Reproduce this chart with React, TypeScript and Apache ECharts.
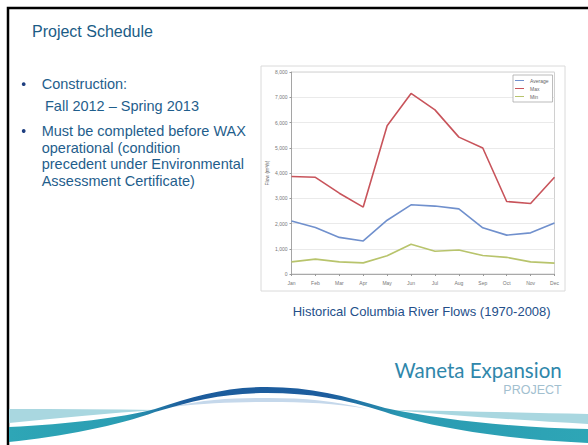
import React, { useEffect, useRef } from "react";
import * as echarts from "echarts";

const months = ["Jan", "Feb", "Mar", "Apr", "May", "Jun", "Jul", "Aug", "Sep", "Oct", "Nov", "Dec"];
const averageFlow = [2100, 1840, 1450, 1310, 2130, 2740, 2690, 2580, 1830, 1540, 1630, 2020];
const maxFlow = [3860, 3830, 3200, 2650, 5870, 7150, 6500, 5420, 4990, 2870, 2790, 3830];
const minFlow = [480, 590, 480, 440, 720, 1180, 900, 950, 730, 660, 480, 430];
const seriesNames = ["Average", "Max", "Min"];
const yMin = 0;
const yMax = 8000;
const yStep = 1000;

const titleText = "Project Schedule";
const bulletLines = [
  "Construction:",
  "Fall 2012 \u2013 Spring 2013",
  "Must be completed before WAX",
  "operational (condition",
  "precedent under Environmental",
  "Assessment Certificate)",
];
const captionText = "Historical Columbia River Flows (1970-2008)";
const logoMain = "Waneta Expansion";
const logoSub = "PROJECT";

const WAVE_MAIN =
  "M9,427 C70,424 120,418 155,409 C195,396 225,387 267,387 C310,387 345,396 385,408 C440,420 520,428 590,429 L590,443 C500,439 430,427 385,412 C345,399 310,393 267,393 C225,393 195,400 155,412 C120,425 60,437 9,442 Z";
const WAVE_LEFT_LIGHT = "M9,409 C60,409 110,409 158,410 C110,413 60,418 9,423 Z";
const WAVE_RIGHT_LIGHT = "M392,410 C460,411 530,413 590,414 L590,424 C530,421 460,416 392,410 Z";
const WAVE_MID_LIGHT =
  "M172,407 C205,399 235,398 268,398 C305,398 335,401 368,409 C335,403 305,402 268,402 C235,402 205,403 172,407 Z";

const BODY_FONT = '"Liberation Sans", Arial, sans-serif';
const LOGO_FONT = 'Lato, "Liberation Sans", sans-serif';

export default function App() {
  const ref = useRef<HTMLDivElement>(null);

  useEffect(() => {
    if (!ref.current) return;
    echarts.graphic.registerShape("waveMain", echarts.graphic.extendPath(WAVE_MAIN, {}));
    echarts.graphic.registerShape("waveLeftLight", echarts.graphic.extendPath(WAVE_LEFT_LIGHT, {}));
    echarts.graphic.registerShape("waveRightLight", echarts.graphic.extendPath(WAVE_RIGHT_LIGHT, {}));
    echarts.graphic.registerShape("waveMidLight", echarts.graphic.extendPath(WAVE_MID_LIGHT, {}));

    const chart = echarts.init(ref.current, null, { renderer: "svg", width: 588, height: 445 });

    const textEl = (
      text: string,
      x: number,
      y: number,
      size: number,
      color: string,
      align = "left",
      family = BODY_FONT
    ) => ({
      type: "text",
      x,
      y,
      silent: true,
      style: {
        text,
        fill: color,
        fontSize: size,
        fontFamily: family,
        align,
        textAlign: align,
        verticalAlign: "middle",
        textVerticalAlign: "middle",
      },
    });

    const bulletY = [84.2, 105.6, 130.9, 147.6, 164.2, 180.9];
    const bulletX = [41.7, 45, 41.7, 41.7, 41.7, 41.7];
    const bodyColor = "#1f5e8c";

    const graphics: any[] = [
      {
        type: "rect",
        shape: { x: 8, y: 8, width: 600, height: 460 },
        style: { fill: "#fff", stroke: "#000", lineWidth: 2.5 },
        z: -10,
        silent: true,
      },
      { type: "waveLeftLight", style: { fill: "#a9d7e0" }, silent: true },
      { type: "waveRightLight", style: { fill: "#a9d7e0" }, silent: true },
      { type: "waveMidLight", style: { fill: "#c5d8eb" }, silent: true },
      {
        type: "waveMain",
        silent: true,
        style: {
          fill: new echarts.graphic.LinearGradient(0, 0, 1, 0, [
            { offset: 0, color: "#2ea6b6" },
            { offset: 0.2, color: "#2a9db3" },
            { offset: 0.3, color: "#1c5c9c" },
            { offset: 0.55, color: "#1d5d9e" },
            { offset: 0.68, color: "#2a9ab2" },
            { offset: 1, color: "#2ea6b6" },
          ]),
        },
      },
      textEl(titleText, 32, 31.1, 16, "#1b5c86"),
      { type: "circle", shape: { cx: 23.7, cy: 84.2, r: 1.9 }, style: { fill: "#1f3f80" }, silent: true },
      { type: "circle", shape: { cx: 23.7, cy: 131, r: 1.9 }, style: { fill: "#1f3f80" }, silent: true },
      ...bulletLines.map((t, i) => textEl(t, bulletX[i], bulletY[i], 14.5, bodyColor)),
      {
        type: "rect",
        shape: { x: 261, y: 66, width: 304, height: 225 },
        style: { fill: "none", stroke: "#dadada", lineWidth: 1 },
        silent: true,
        z: -5,
      },
      textEl(captionText, 421.7, 311.4, 13, "#244f8a", "center"),
      textEl(logoMain, 561.7, 369.6, 20.5, "#2f87ab", "right", LOGO_FONT),
      textEl(logoSub, 561.7, 389.8, 12.5, "#a2c0cf", "right", BODY_FONT),
    ];

    const lineColors = ["#7090cd", "#c8545b", "#b8c46c"];
    const dataSets = [averageFlow, maxFlow, minFlow];

    chart.setOption({
      animation: false,
      backgroundColor: "#fff",
      graphic: { elements: graphics },
      grid: {
        left: 291.5,
        top: 72,
        width: 263,
        height: 202,
        show: true,
        borderColor: "#c4c4c4",
        borderWidth: 0.8,
        backgroundColor: "transparent",
      },
      legend: {
        orient: "vertical",
        left: 513,
        top: 75,
        data: seriesNames,
        icon: "rect",
        itemWidth: 9,
        itemHeight: 1,
        itemGap: 3,
        padding: [3, 4, 3, 2],
        borderColor: "#aaa",
        borderWidth: 0.8,
        backgroundColor: "#fff",
        textStyle: { fontSize: 5, color: "#666", fontFamily: BODY_FONT, padding: [0, 0, 0, 1] },
      },
      xAxis: {
        type: "category",
        data: months,
        boundaryGap: false,
        axisLine: { lineStyle: { color: "#999", width: 0.8 } },
        axisTick: { show: true, length: 2, lineStyle: { color: "#999" } },
        axisLabel: { fontSize: 5, color: "#777", margin: 6, fontFamily: BODY_FONT, interval: 0 },
        splitLine: { show: false },
      },
      yAxis: {
        type: "value",
        min: yMin,
        max: yMax,
        interval: yStep,
        name: "Flow (m\u00b3/s)",
        nameLocation: "middle",
        nameRotate: 90,
        nameGap: 22,
        nameTextStyle: { fontSize: 5, color: "#555", fontFamily: BODY_FONT },
        axisLine: { show: true, lineStyle: { color: "#999", width: 0.8 } },
        axisTick: { show: true, length: 2, lineStyle: { color: "#999" } },
        axisLabel: {
          fontSize: 5,
          color: "#777",
          margin: 4,
          fontFamily: BODY_FONT,
          formatter: (v: number) => v.toLocaleString("en-US"),
        },
        splitLine: { show: true, lineStyle: { color: "#e4e4e4", width: 0.8 } },
      },
      series: seriesNames.map((name, i) => ({
        name,
        type: "line",
        data: dataSets[i],
        symbol: "none",
        smooth: false,
        color: lineColors[i],
        lineStyle: { width: 1.6, color: lineColors[i] },
      })),
    });

    return () => chart.dispose();
  }, []);

  return (
    <div
      ref={ref}
      style={{ position: "absolute", left: 0, top: 0, width: 588, height: 445, background: "#fff" }}
    />
  );
}
